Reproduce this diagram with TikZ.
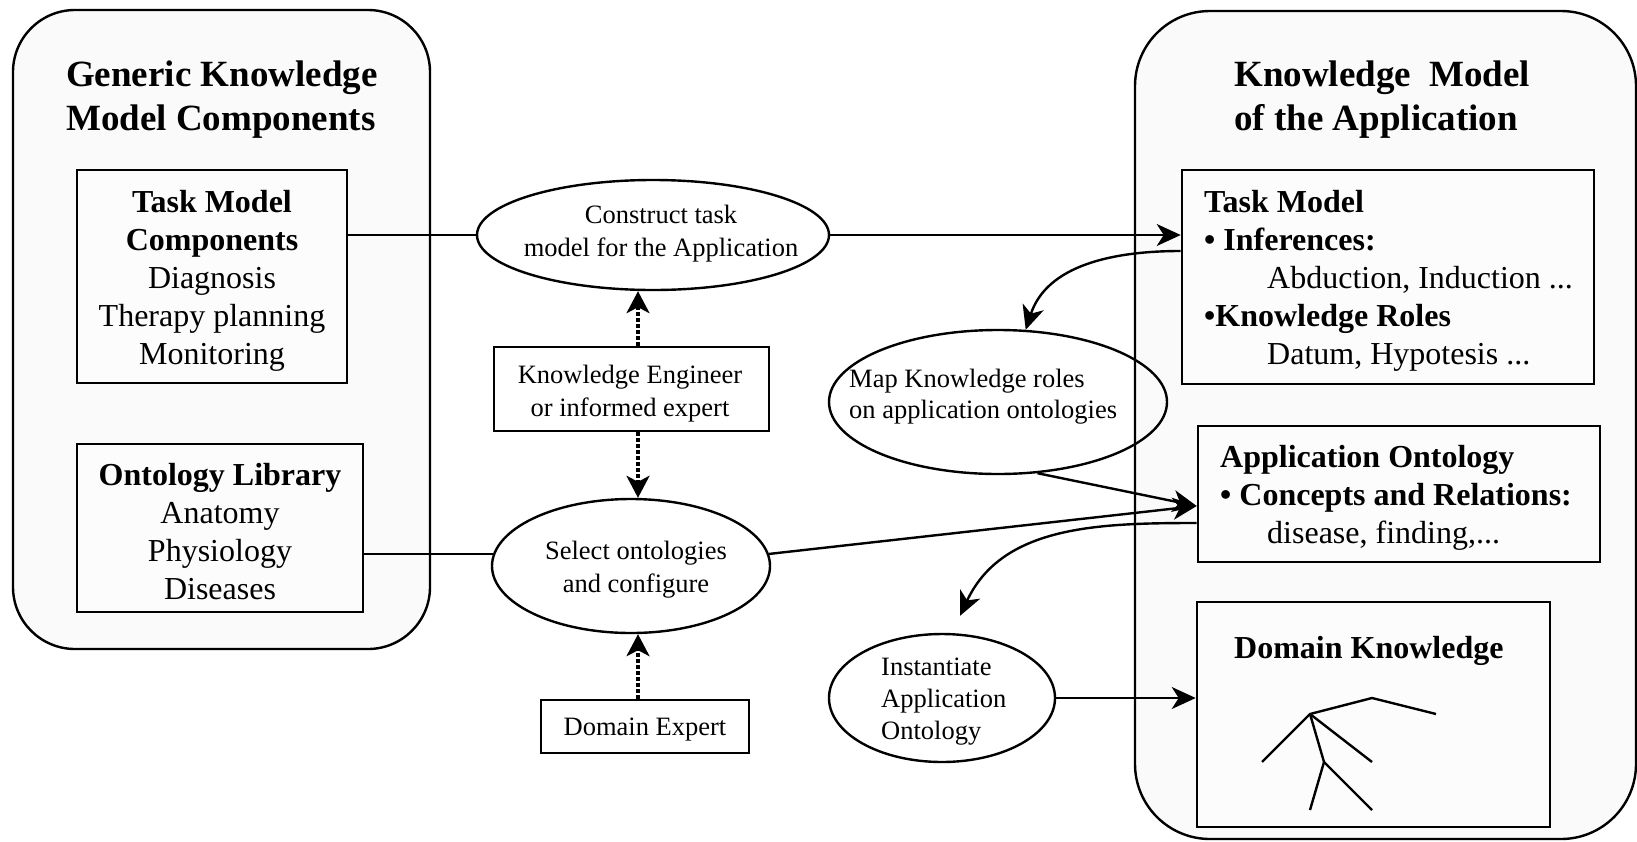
\documentclass[tikz,border=0pt]{standalone}
\usepackage{fontspec}
\setmainfont{Liberation Serif}
\usetikzlibrary{arrows.meta,shapes.geometric,calc}

\begin{document}
\begin{tikzpicture}[x=1pt,y=-1pt,
  panel/.style={draw, line width=2.4pt, rounded corners=#1, fill=black!2},
  box/.style={draw, line width=2.6pt, fill=black!1, inner sep=0pt},
  oval/.style={draw, ellipse, line width=2.4pt, inner sep=0pt, fill=white},
  ttl/.style={font=\fontsize{37}{44}\selectfont\bfseries, anchor=base west, inner sep=0pt},
  big/.style={font=\fontsize{32}{38}\selectfont, anchor=base, inner sep=0pt},
  bigl/.style={font=\fontsize{32}{38}\selectfont, anchor=base west, inner sep=0pt},
  small/.style={font=\fontsize{26.5}{32}\selectfont, anchor=base, inner sep=0pt},
  smalll/.style={font=\fontsize{26.5}{32}\selectfont, anchor=base west, inner sep=0pt},
  link/.style={line width=2.4pt},
  arr/.style={line width=2.4pt, -{Stealth[length=24pt,width=22pt,inset=7pt]}},
  dots/.style={line width=3.3pt, dash pattern=on 3.3pt off 2.7pt,
               -{Stealth[length=22pt,width=23pt,inset=6pt]}},
  tree/.style={line width=2.4pt}
]
\useasboundingbox (0,0) rectangle (1637,841);

% two large panels
\draw[panel=62] (13,10) rectangle (430,649);
\draw[panel=75] (1135,11) rectangle (1636,839);

% panel titles
\node[ttl] (gt1) at (66,86.5) {Generic Knowledge};
\node[ttl] (gt2) at (66,130) {Model Components};
\node[ttl] (at1) at (1234,86.5) {Knowledge\ \ Model};
\node[ttl] (at2) at (1234,130) {of the Application};

% generic components
\node[box, minimum width=270pt, minimum height=213pt] (tmc) at (212,276.5) {};
\node[big] (tmc1) at (212,212) {\bfseries Task Model};
\node[big] (tmc2) at (212,250) {\bfseries Components};
\node[big] (tmc3) at (212,288) {Diagnosis};
\node[big] (tmc4) at (212,326) {Therapy planning};
\node[big] (tmc5) at (212,364) {Monitoring};

\node[box, minimum width=286pt, minimum height=168pt] (lib) at (220,528) {};
\node[big] (lib1) at (220,485) {\bfseries Ontology Library};
\node[big] (lib2) at (220,523) {Anatomy};
\node[big] (lib3) at (220,561) {Physiology};
\node[big] (lib4) at (220,599) {Diseases};

% process steps and actors
\node[oval, minimum width=352pt, minimum height=110pt] (construct) at (653,235) {};
\node[small] (c1) at (661,223) {Construct task};
\node[small] (c2) at (661,256) {model for the Application};

\node[box, fill=white, minimum width=275pt, minimum height=84pt] (ke) at (631.5,389) {};
\node[small] (ke1) at (630,383) {Knowledge Engineer};
\node[small] (ke2) at (630,416) {or informed expert};

\node[oval, minimum width=278pt, minimum height=134pt] (select) at (631,566) {};
\node[small] (s1) at (636,559) {Select ontologies};
\node[small] (s2) at (636,592) {and configure};

\node[box, fill=white, minimum width=208pt, minimum height=53pt] (de) at (645,726.5) {};
\node[small] (de1) at (645,735) {Domain Expert};

\coordinate (axis) at (638,0);

% application knowledge model
\node[box, minimum width=412pt, minimum height=214pt] (taskm) at (1388,277) {};
\node[bigl] (tm1) at (1204,212) {\bfseries Task Model};
\node[bigl] (tm2) at (1204,250) {\bfseries • Inferences:};
\node[bigl] (tm3) at (1267,288) {Abduction, Induction ...};
\node[bigl] (tm4) at (1204,326) {\bfseries •Knowledge Roles};
\node[bigl] (tm5) at (1267,364) {Datum, Hypotesis ...};

\node[box, minimum width=402pt, minimum height=136pt] (app) at (1399,494) {};
\node[bigl] (ao1) at (1220,467) {\bfseries Application Ontology};
\node[bigl] (ao2) at (1220,505) {\bfseries • Concepts and Relations:};
\node[bigl] (ao3) at (1267,543) {disease, finding,...};

\node[box, minimum width=353pt, minimum height=225pt] (dk) at (1373.5,714.5) {};
\node[bigl] (dk1) at (1234,658) {\bfseries Domain Knowledge};

% small tree inside the domain knowledge box
\draw[tree] (1262,762) -- (1310,714) -- (1372,698) -- (1436,714);
\draw[tree] (1310,714) -- (1372,762);
\draw[tree] (1310,714) -- (1324,762) -- (1310,810);
\draw[tree] (1324,762) -- (1372,810);

% ellipses overlapping the right panel
\node[oval, fill=none, minimum width=338pt, minimum height=144pt] (map) at (998,402) {};
\node[smalll] (m1) at (849,387) {Map Knowledge roles};
\node[smalll] (m2) at (849,418) {on application ontologies};

\node[oval, minimum width=226pt, minimum height=128pt] (inst) at (942,698) {};
\node[smalll] (i1) at (881,675) {Instantiate};
\node[smalll] (i2) at (881,707) {Application};
\node[smalll] (i3) at (881,739) {Ontology};

% connectors
\draw[link] (tmc.east |- construct.west) -- (construct.west);
\draw[link] (lib.east |- select.175) -- (select.175);
\draw[arr] (construct.east) -- (taskm.west |- construct.east);

\draw[dots] (ke.north -| axis) -- (construct.south -| axis);
\draw[dots] (ke.south -| axis) -- (select.north -| axis);
\draw[dots] (de.north -| axis) -- (select.south -| axis);

\draw[arr] ([yshift=26pt]taskm.west) to[out=180,in=72] (map.69);
\draw[arr] (map.-61) -- ([yshift=-12pt]app.west);
\draw[arr] (select.5) -- ([yshift=-12pt]app.west);
\draw[arr] ([yshift=-29pt]app.west) to[out=180,in=65] ([xshift=18pt,yshift=17pt]inst.north);
\draw[arr] (inst.east) -- (dk.west |- inst.east);
\end{tikzpicture}
\end{document}
